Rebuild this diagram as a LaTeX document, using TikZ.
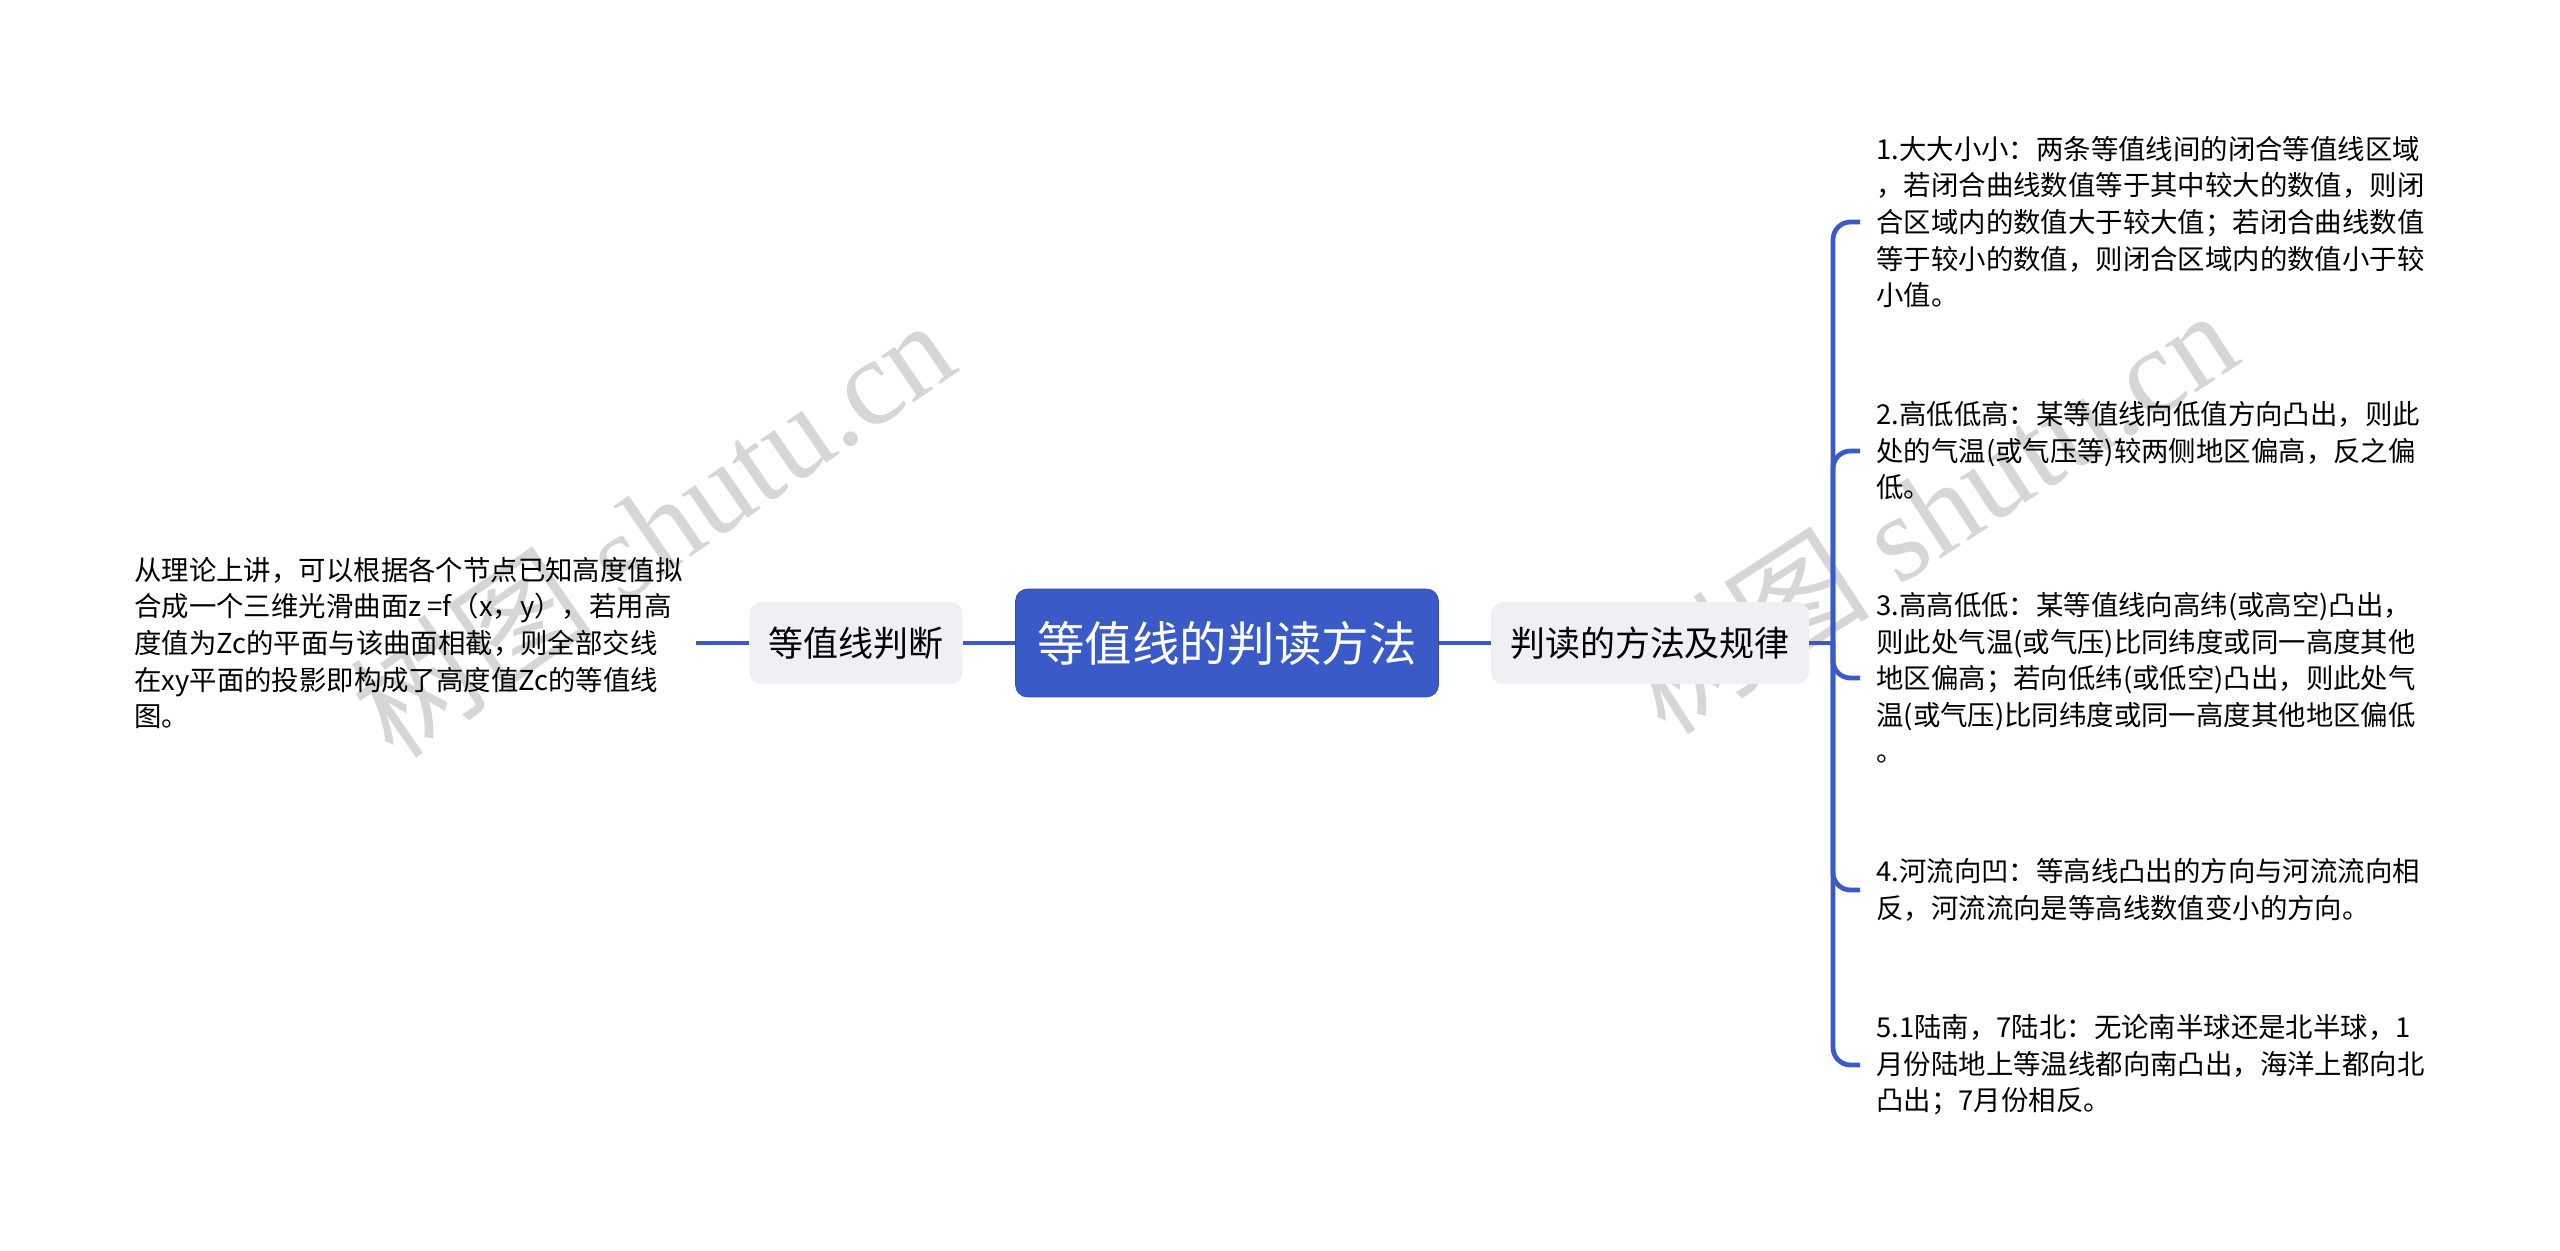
\documentclass[tikz,border=0pt]{standalone}
\usepackage{fontspec}
\setmainfont{Noto Sans CJK SC}
\newfontfamily\markfont{Liberation Serif}
\definecolor{mapblue}{HTML}{3A5BC7}
\definecolor{topicgray}{HTML}{EEF0F4}
\definecolor{markgray}{HTML}{D6D6D6}
\tikzset{
  link/.style={draw=mapblue, line width=0.095cm, rounded corners=0.35cm},
  topic/.style={fill=topicgray, rounded corners=0.24cm, minimum height=1.64cm,
    inner sep=0pt, font=\fontsize{19.9pt}{24pt}\selectfont},
  note/.style={align=left, anchor=west, inner xsep=0.32cm, inner ysep=0pt,
    font=\fontsize{15.6pt}{20.8pt}\selectfont},
  wmark/.style={text=markgray, font=\fontsize{70pt}{80pt}\selectfont}
}
\begin{document}
\begin{tikzpicture}[x=0.02cm, y=-0.02cm]
    \useasboundingbox[fill=white] (0,0) rectangle (2560,1251);

    % Watermarks
    \node (wm1) at (652,527) [wmark, rotate=34.6] {树图\markfont\ shutu.cn};
    \node (wm2) at (1930,510) [wmark, rotate=33] {树图\markfont\ shutu.cn};

    % Root
    \node (root) at (1227,643) [fill=mapblue, draw=mapblue!85!black, rounded corners=0.24cm,
      minimum width=8.46cm, minimum height=2.16cm, text=white,
      font=\fontsize{27pt}{30pt}\selectfont] {等值线的判读方法};

    % Main branches
    \node (lbranch) at (856,643) [topic, minimum width=4.26cm] {等值线判断};
    \node (rbranch) at (1650,643) [topic, minimum width=6.36cm] {判读的方法及规律};

    % Left note
    \node (lnote) at (121,643) [note, inner xsep=0.26cm] {从理论上讲，可以根据各个节点已知高度值拟\\
      合成一个三维光滑曲面z =f（x，y），若用高\\
      度值为Zc的平面与该曲面相截，则全部交线\\
      在xy平面的投影即构成了高度值Zc的等值线\\
      图。};

    % Right notes
    \node (item1) at (1860,222) [note] {1.大大小小：两条等值线间的闭合等值线区域\\
      ，若闭合曲线数值等于其中较大的数值，则闭\\
      合区域内的数值大于较大值；若闭合曲线数值\\
      等于较小的数值，则闭合区域内的数值小于较\\
      小值。};
    \node (item2) at (1860,451) [note] {2.高低低高：某等值线向低值方向凸出，则此\\
      处的气温(或气压等)较两侧地区偏高，反之偏\\
      低。};
    \node (item3) at (1860,678) [note] {3.高高低低：某等值线向高纬(或高空)凸出，\\
      则此处气温(或气压)比同纬度或同一高度其他\\
      地区偏高；若向低纬(或低空)凸出，则此处气\\
      温(或气压)比同纬度或同一高度其他地区偏低\\
      。};
    \node (item4) at (1860,890) [note] {4.河流向凹：等高线凸出的方向与河流流向相\\
      反，河流流向是等高线数值变小的方向。};
    \node (item5) at (1860,1065) [note] {5.1陆南，7陆北：无论南半球还是北半球，1\\
      月份陆地上等温线都向南凸出，海洋上都向北\\
      凸出；7月份相反。};

    % Connectors
    \coordinate (hub) at (1833,643);
    \draw[link] (lnote.east) -- (lbranch.west);
    \draw[link] (lbranch.east) -- (root.west);
    \draw[link] (root.east) -- (rbranch.west);
    \draw[link] (rbranch.east) -- (hub);
    \draw[link] (hub) |- (item1.west);
    \draw[link] (hub) |- (item2.west);
    \draw[link] (hub) |- (item3.west);
    \draw[link] (hub) |- (item4.west);
    \draw[link] (hub) |- (item5.west);
\end{tikzpicture}
\end{document}
